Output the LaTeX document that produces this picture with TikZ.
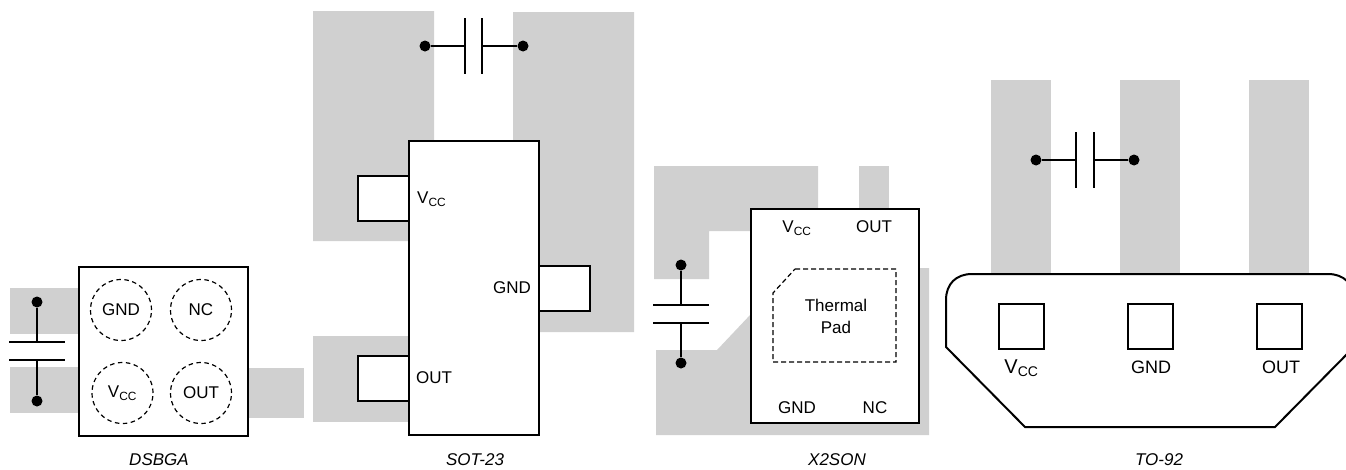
\documentclass[tikz,border=0pt]{standalone}
\usepackage{fontspec}
\setmainfont{Liberation Sans}
\definecolor{copper}{RGB}{208, 208, 208}
\newcommand{\vcc}{V\textsubscript{CC}}
\newcommand{\pinfont}{\fontsize{17}{22}\selectfont}
\newcommand{\bigfont}{\fontsize{18}{22}\selectfont}
\newcommand{\hugefont}{\fontsize{20}{22}\selectfont}
\tikzset{
    package/.style={rectangle, draw, fill=white, line width=2pt, inner sep=0pt},
    padbox/.style={rectangle, draw, fill=white, line width=2pt, inner sep=0pt},
    ball/.style={circle, draw, dashed, dash pattern=on 4.5pt off 3.5pt, line width=1.2pt, minimum size=61pt, inner sep=0pt, font=\pinfont},
    pinlabel/.style={inner sep=0pt, font=\pinfont},
    caption/.style={inner sep=0pt, font=\pinfont\itshape},
    capdot/.style={circle, fill=black, minimum size=11pt, inner sep=0pt},
    hplate/.style={rectangle, fill=black, minimum width=56pt, minimum height=2pt, inner sep=0pt},
    vplate/.style={rectangle, fill=black, minimum width=2pt, minimum height=56pt, inner sep=0pt},
    wire/.style={line width=2pt}
}
\begin{document}
\begin{tikzpicture}[x=1pt, y=-1pt]
    \clip (0,0) rectangle (1346,469);

    % Copper areas
    \fill[copper] (10,288) rectangle (79,334);
    \fill[copper] (10,367) rectangle (79,413);
    \fill[copper] (248,368) rectangle (304,418);
    \fill[copper] (313,11) -- (434,11) -- (434,141) -- (409,141) -- (409,241) -- (313,241) -- cycle;
    \fill[copper] (513,12) -- (634,12) -- (634,332) -- (539,332) -- (539,141) -- (513,141) -- cycle;
    \fill[copper] (313,336) rectangle (409,422);
    \fill[copper] (654,166) -- (818,166) -- (818,209) -- (751,209) -- (751,231) -- (709,231) -- (709,279) -- (654,279) -- cycle;
    \fill[copper] (859,166) rectangle (889,209);
    \fill[copper] (656,350) -- (717,350) -- (751,314) -- (751,268) -- (929,268) -- (929,435) -- (656,435) -- cycle;
    \fill[copper] (991,80) rectangle (1051,275);
    \fill[copper] (1120,80) rectangle (1180,275);
    \fill[copper] (1249,80) rectangle (1309,275);

    % DSBGA
    \node[package, minimum width=169pt, minimum height=169pt] (dsbga) at (163.5,351.5) {};
    \node[ball] (ballgnd) at (121,310) {GND};
    \node[ball] (ballnc) at (201,310) {NC};
    \node[ball] (ballvcc) at (122.5,393) {\vcc};
    \node[ball] (ballout) at (201,393) {OUT};
    \node[caption] (capdsbga) at (159,460) {DSBGA};

    \node[hplate] (plateaa) at (37,342) {};
    \node[hplate] (plateab) at (37,360) {};
    \node[capdot] (dotaa) at (37,302) {};
    \node[capdot] (dotab) at (37,401) {};
    \draw[wire] (dotaa) -- (plateaa);
    \draw[wire] (dotab) -- (plateab);

    % SOT-23
    \node[padbox, minimum width=52pt, minimum height=45pt] (padvcc) at (384,198) {};
    \node[padbox, minimum width=52pt, minimum height=45pt] (padout) at (384,378.5) {};
    \node[padbox, minimum width=52pt, minimum height=45pt] (padgnd) at (564,288.5) {};
    \node[package, minimum width=130pt, minimum height=294pt] (sot) at (474,288) {};
    \node[pinlabel, anchor=west] (sotvcc) at (417,199) {\vcc};
    \node[pinlabel, anchor=east] (sotgnd) at (531,288) {GND};
    \node[pinlabel, anchor=west] (sotout) at (416,378) {OUT};
    \node[caption] (capsot) at (475,460) {SOT-23};

    \node[vplate] (platebb) at (465,46) {};
    \node[vplate] (platebc) at (482,46) {};
    \node[capdot] (dotbb) at (425,46) {};
    \node[capdot] (dotbc) at (523,46) {};
    \draw[wire] (dotbb) -- (platebb);
    \draw[wire] (dotbc) -- (platebc);

    % X2SON
    \node[package, minimum width=168pt, minimum height=214pt] (xson) at (835,316) {};
    \node[pinlabel] (xvcc) at (797,228) {\vcc};
    \node[pinlabel] (xout) at (874,227) {OUT};
    \node[pinlabel] (xgnd) at (797,408) {GND};
    \node[pinlabel] (xnc) at (875,408) {NC};
    \draw[dash pattern=on 5pt off 3pt, line width=1.2pt] (795,269) -- (896,269) -- (896,362) -- (773,362) -- (773,293) -- cycle;
    \node[pinlabel, align=center] (xpad) at (836,316) {Thermal\\Pad};
    \node[caption] (capxson) at (837,460) {X2SON};

    \node[hplate] (platecc) at (681,305) {};
    \node[hplate] (platecd) at (681,323) {};
    \node[capdot] (dotcc) at (681,265) {};
    \node[capdot] (dotcd) at (681,363) {};
    \draw[wire] (dotcc) -- (platecc);
    \draw[wire] (dotcd) -- (platecd);

    % TO-92
    \draw[fill=white, line width=2pt] (946,347) -- (946,300) .. controls (946,284) and (956,274) .. (972,274)
        -- (1328,274) .. controls (1344,274) and (1354,284) .. (1354,300) -- (1354,347) -- (1275,427) -- (1025,427) -- cycle;
    \node[padbox, minimum size=45pt] (tovcc) at (1021,326) {};
    \node[padbox, minimum size=45pt] (tognd) at (1150,326) {};
    \node[padbox, minimum size=45pt] (toout) at (1279,326) {};
    \node[inner sep=0pt, font=\hugefont] (labvcc) at (1021.5,368) {\vcc};
    \node[inner sep=0pt, font=\bigfont] (labgnd) at (1151,367) {GND};
    \node[inner sep=0pt, font=\bigfont] (labout) at (1281,367) {OUT};
    \node[caption] (capto) at (1159,460) {TO-92};

    \node[vplate] (platedd) at (1076,160) {};
    \node[vplate] (platede) at (1094,160) {};
    \node[capdot] (dotdd) at (1036,160) {};
    \node[capdot] (dotde) at (1134,160) {};
    \draw[wire] (dotdd) -- (platedd);
    \draw[wire] (dotde) -- (platede);
\end{tikzpicture}
\end{document}
